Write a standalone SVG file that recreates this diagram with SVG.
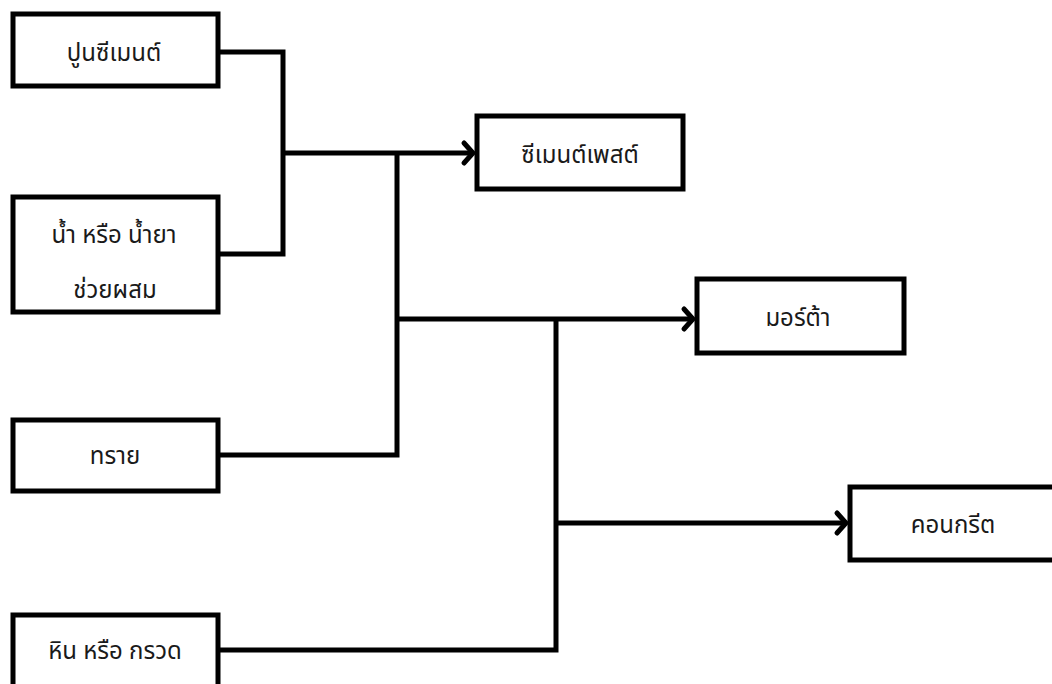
<svg xmlns="http://www.w3.org/2000/svg" width="1052" height="684" viewBox="0 0 1052 684">
<style>
.box{fill:#fff;stroke:#000;stroke-width:5}
.ln{fill:none;stroke:#000;stroke-width:5;stroke-linejoin:miter}
.ah{fill:none;stroke:#000;stroke-width:5;stroke-linecap:round;stroke-linejoin:miter}
text{font-family:"Noto Sans Thai","DejaVu Sans","Noto Sans",sans-serif;font-size:24px;fill:#1a1a1a;text-anchor:middle}
</style>
<rect width="1052" height="684" fill="#fff"/>
<g id="connectors">
<polyline class="ln" points="218,52 283,52 283,254 218,254"/>
<polyline class="ln" points="283,153 471,153"/>
<polyline class="ln" points="397,153 397,455 218,455"/>
<polyline class="ln" points="397,319 691,319"/>
<polyline class="ln" points="556,319 556,650 218,650"/>
<polyline class="ln" points="556,523 843,523"/>
<polyline class="ah" points="464,143 473,153 464,163"/>
<polyline class="ah" points="684,309 693,319 684,329"/>
<polyline class="ah" points="837,513 846,523 837,533"/>
</g>
<g id="n1"><rect class="box" x="13" y="14" width="205" height="72"/><text x="114" y="61">ปูนซีเมนต์</text></g>
<g id="n2"><rect class="box" x="13" y="197" width="205" height="115"/><text x="114" y="243">น้ำ หรือ น้ำยา</text><text x="115" y="298">ช่วยผสม</text></g>
<g id="n3"><rect class="box" x="13" y="420" width="205" height="71"/><text x="115" y="464">ทราย</text></g>
<g id="n4"><rect class="box" x="13" y="615" width="205" height="90"/><text x="115" y="659">หิน หรือ กรวด</text></g>
<g id="n5"><rect class="box" x="477" y="116" width="206" height="73"/><text x="580" y="163">ซีเมนต์เพสต์</text></g>
<g id="n6"><rect class="box" x="697" y="279" width="207" height="74"/><text x="798" y="326">มอร์ต้า</text></g>
<g id="n7"><rect class="box" x="850" y="487" width="215" height="73"/><text x="953" y="533">คอนกรีต</text></g>
</svg>
